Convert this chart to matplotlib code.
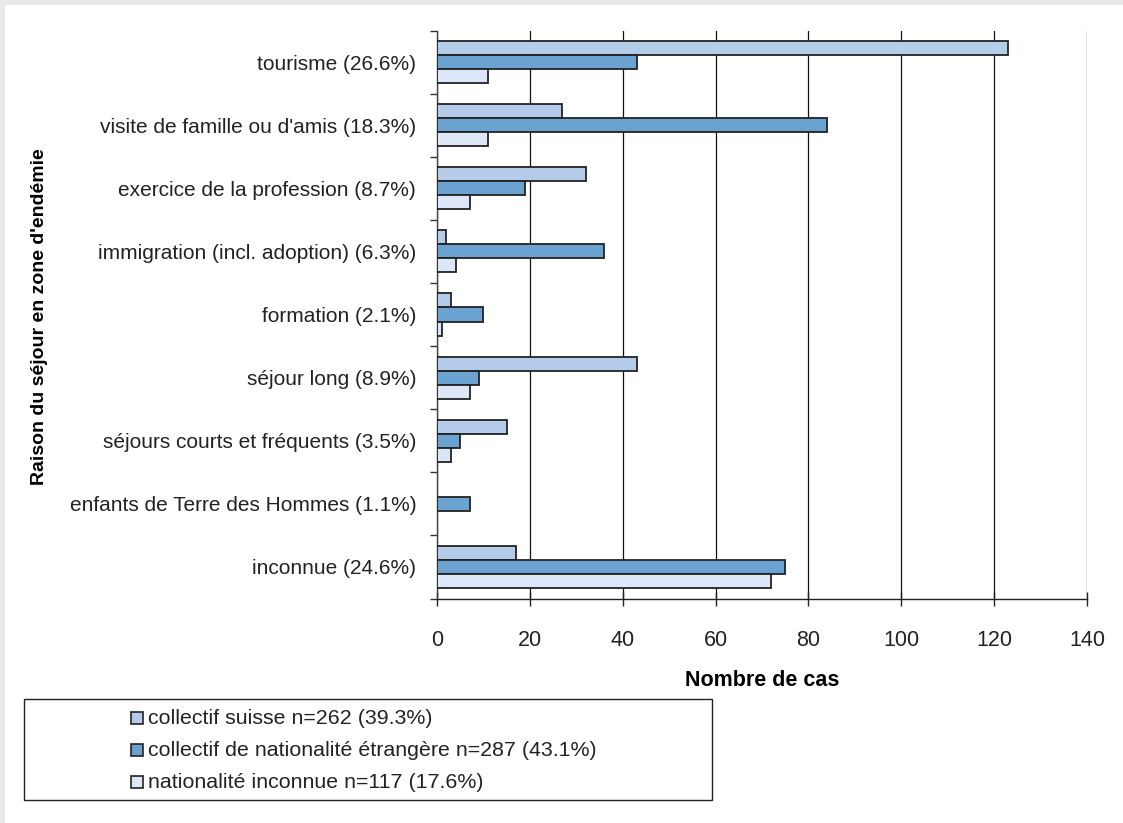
import matplotlib
matplotlib.use("Agg")
import matplotlib.pyplot as plt
import numpy as np
from matplotlib.patches import Rectangle

categories = [
    "tourisme (26.6%)",
    "visite de famille ou d'amis (18.3%)",
    "exercice de la profession (8.7%)",
    "immigration (incl. adoption) (6.3%)",
    "formation (2.1%)",
    "séjour long (8.9%)",
    "séjours courts et fréquents (3.5%)",
    "enfants de Terre des Hommes (1.1%)",
    "inconnue (24.6%)",
]
suisse = [123, 27, 32, 2, 3, 43, 15, 0, 17]
etrangere = [43, 84, 19, 36, 10, 9, 5, 7, 75]
inconnue = [11, 11, 7, 4, 1, 7, 3, 0, 72]
series_labels = [
    "collectif suisse n=262 (39.3%)",
    "collectif de nationalité étrangère n=287 (43.1%)",
    "nationalité inconnue n=117 (17.6%)",
]
colors = ["#b4cbea", "#6aa3d1", "#dde6f7"]
xticks = [0, 20, 40, 60, 80, 100, 120, 140]

plt.rcParams['font.family'] = ['Liberation Sans', 'DejaVu Sans']

W, H = 1123, 823
fig = plt.figure(figsize=(W / 100, H / 100), dpi=100)
fig.patch.set_facecolor("white")


def fx(px):
    return px / W


def fy(py):
    return 1 - py / H


# grey frame strips (top and left)
fig.add_artist(Rectangle((0, fy(5)), 1, 5 / H, transform=fig.transFigure,
                         facecolor="#e8e9e9", edgecolor="none", zorder=0))
fig.add_artist(Rectangle((0, 0), 5 / W, 1, transform=fig.transFigure,
                         facecolor="#e8e9e9", edgecolor="none", zorder=0))

ax_l, ax_r, ax_t, ax_b = 437, 1087, 30.5, 598.5
ax = fig.add_axes([fx(ax_l), fy(ax_b), (ax_r - ax_l) / W, (ax_b - ax_t) / H])

n = len(categories)
y = np.arange(n)
bh = 0.222
for i, (vals, c, lab) in enumerate(zip([suisse, etrangere, inconnue], colors, series_labels)):
    pos = y + (i - 1) * bh
    v = np.array(vals, dtype=float)
    mask = v > 0
    ax.barh(pos[mask], v[mask], height=bh, color=c, edgecolor="#222222",
            linewidth=1.3, zorder=3, label=lab)

ax.set_ylim(n - 0.5, -0.5)
ax.set_xlim(0, 140)
ax.set_xticks(xticks)
ax.set_xticklabels([str(t) for t in xticks], fontsize=15.5, color="#222222")
ax.set_yticks(y)
ax.set_yticklabels(categories, fontsize=15, color="#222222")
ax.tick_params(axis="y", length=0, pad=15)
ax.set_yticks(np.arange(-0.5, n, 1.0), minor=True)
ax.tick_params(axis="y", which="minor", length=5, width=1, color="#333333", direction="out")
ax.tick_params(axis="x", length=10, width=1, direction="inout", pad=18, color="#222222")
ax.grid(axis="x", color="#111111", linewidth=0.9, zorder=0)
for s in ["top", "right"]:
    ax.spines[s].set_visible(False)
ax.spines["left"].set_color("#444444")
ax.spines["bottom"].set_color("#222222")
ax.spines["left"].set_linewidth(1.0)
ax.spines["bottom"].set_linewidth(1.0)
ax.set_xlabel("Nombre de cas", fontsize=15.5, fontweight="bold", labelpad=13)

fig.text(fx(40), fy(317), "Raison du séjour en zone d'endémie", rotation=90,
         fontsize=14, fontweight="bold", ha="center", va="center")

# legend drawn manually
fig.add_artist(Rectangle((fx(24), fy(800)), (712 - 24) / W, (800 - 699) / H,
                         transform=fig.transFigure, facecolor="white",
                         edgecolor="#222222", linewidth=1.0))
for k, (lab, c) in enumerate(zip(series_labels, colors)):
    yc = 718 + 32 * k
    fig.add_artist(Rectangle((fx(131), fy(yc + 6)), 12 / W, 12 / H,
                             transform=fig.transFigure, facecolor=c,
                             edgecolor="#222222", linewidth=1.2))
    fig.text(fx(148), fy(yc), lab, fontsize=15.4, color="#222222",
             ha="left", va="center")

fig.savefig("out.png", dpi=100, facecolor="white")
